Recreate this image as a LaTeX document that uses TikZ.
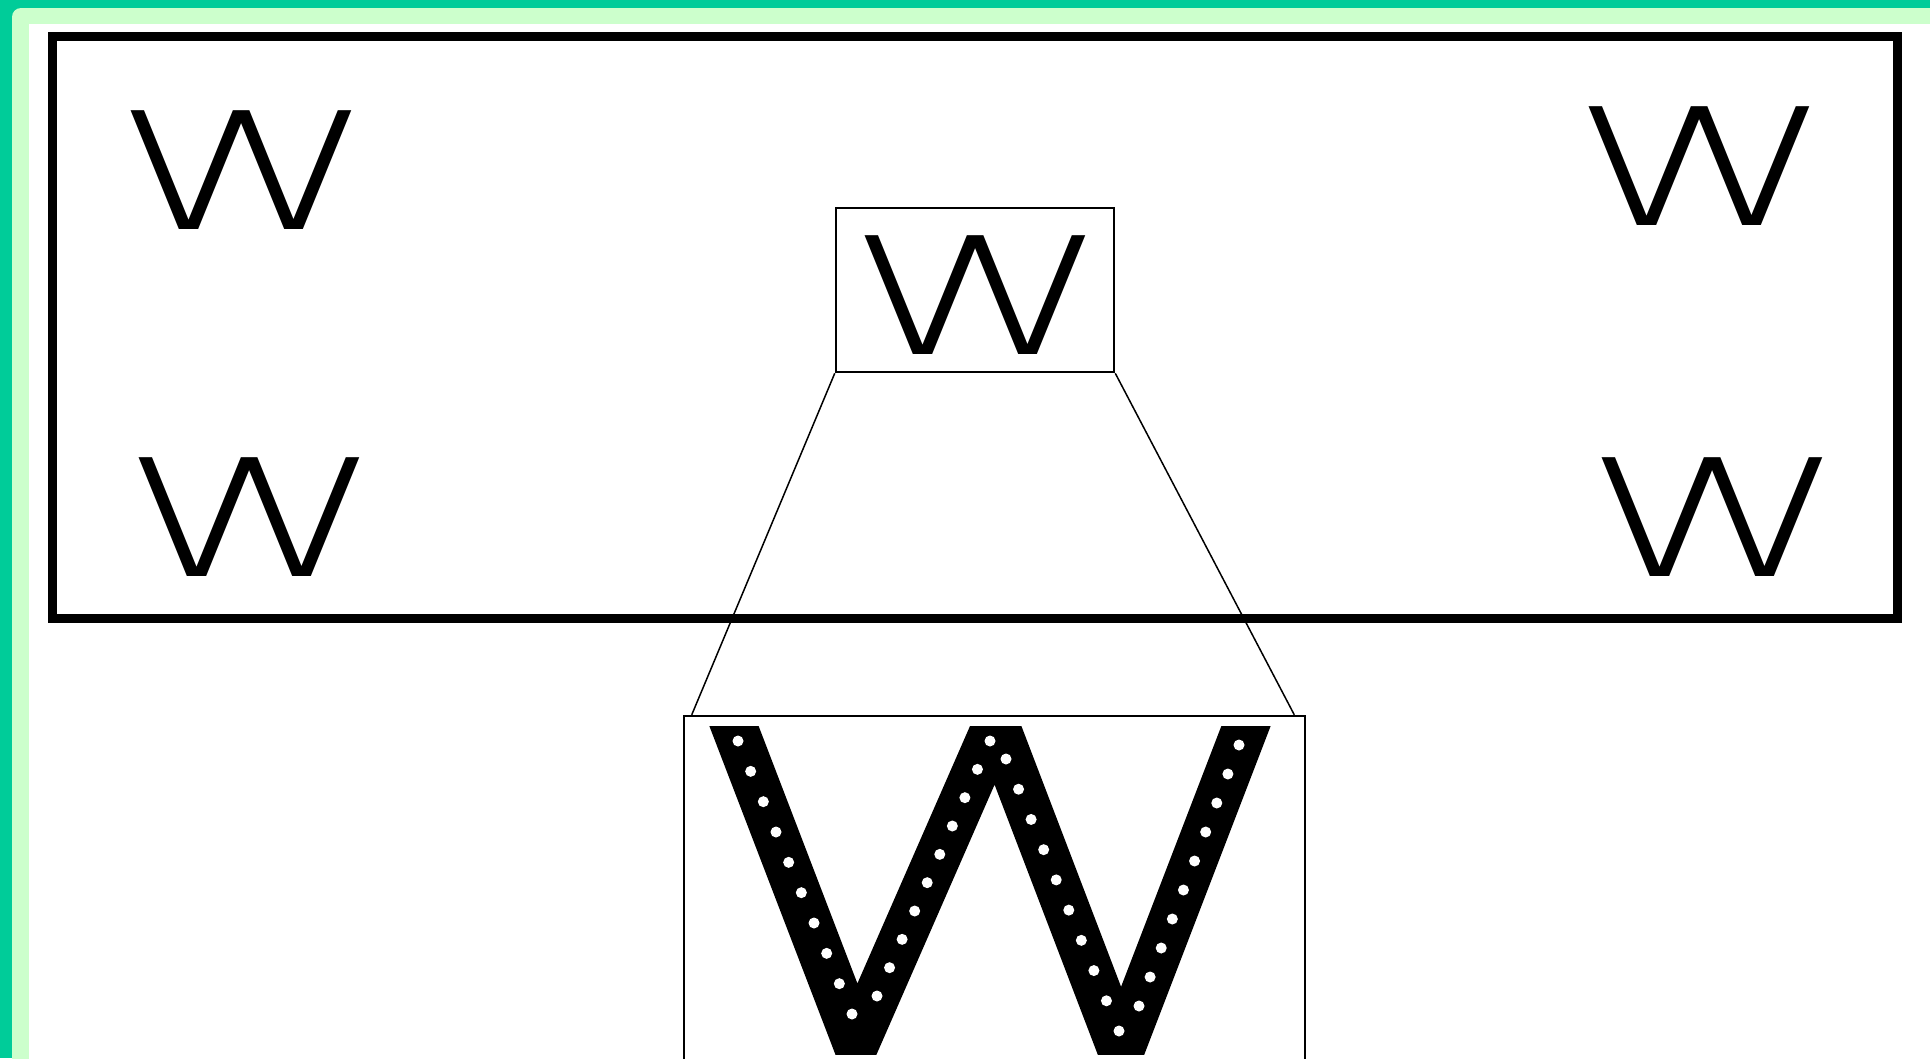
\documentclass[tikz,border=0pt]{standalone}
\usepackage{fontspec}
\newfontfamily\wfont{DejaVu Sans ExtraLight}
\usepackage{tikz}
\usetikzlibrary{positioning,calc}
\definecolor{rimdark}{RGB}{0,204,153}
\definecolor{rimlight}{RGB}{204,255,204}

\begin{document}
\begin{tikzpicture}[x=1pt,y=-1pt,
  outerbox/.style={draw,line width=9pt,minimum width=1845pt,minimum height=582pt,inner sep=0pt},
  glyph/.style={font=\wfont\fontsize{163}{163}\selectfont,inner sep=0pt,xscale=1.64},
  srcbox/.style={draw,line width=2.5pt,minimum width=278pt,minimum height=164pt,inner sep=0pt},
  lensbox/.style={draw,line width=2.5pt,minimum width=621pt,minimum height=384pt,inner sep=0pt},
  zoomline/.style={line width=1.5pt},
  bigw/.style={line width=46pt,line join=miter},
  pixdot/.style={fill=white}]
  \clip (0,0) rectangle (1930,1058);
  \fill[rimdark] (0,0) rectangle (1930,1058);
  \fill[rimlight,rounded corners=9pt] (12,8) rectangle (1960,1090);
  \fill[white] (29,24) rectangle (1960,1090);
  \node[outerbox] (frame) at (974.5,327) {};
  \node[glyph] (wTL) at (245,170.5) {W};
  \node[glyph] (wTR) at (1703,166.5) {W};
  \node[glyph] (wBL) at (253,517.5) {W};
  \node[glyph] (wBR) at (1716,517.5) {W};
  \node[glyph] (wMid) at (978.5,295) {W};
  \node[srcbox] (src) at (975,290) {};
  \node[lensbox] (lens) at (994.5,908) {};
  \draw[zoomline] (src.south west) -- ([xshift=9pt]lens.north west);
  \draw[zoomline] (src.south east) -- ([xshift=-12pt]lens.north east);
  \begin{scope}
    \clip (686,726) rectangle (1303,1054);
    \draw[bigw] (724,700) -- (856,1044) -- (996,724) -- (1121,1051) -- (1256,700);
    \foreach \ax/\ay/\bx/\by in {738/741/852/1014,877/996/990/741,1006/759/1119/1031,1139/1006/1239/745}
      \foreach \t in {0,...,9}
        \fill[pixdot] ({\ax+(\bx-\ax)*\t/9},{\ay+(\by-\ay)*\t/9}) circle[radius=5.5];
  \end{scope}
\end{tikzpicture}
\end{document}
